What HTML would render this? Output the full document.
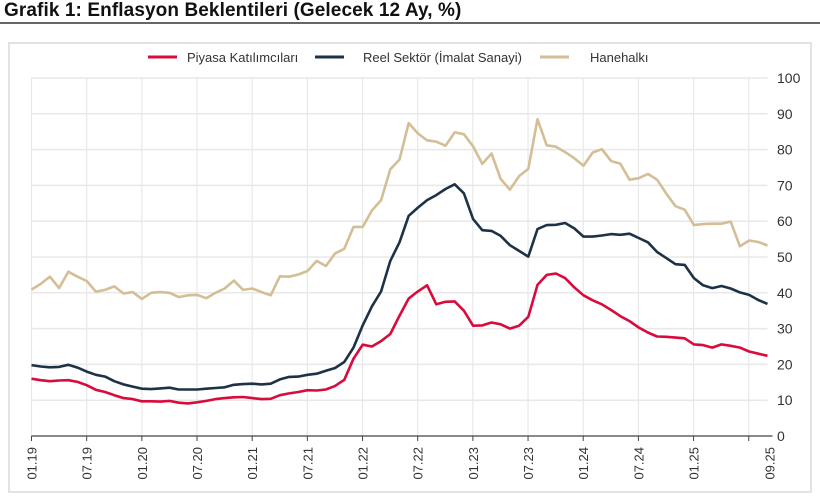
<!DOCTYPE html>
<html><head><meta charset="utf-8">
<style>
body{margin:0;width:820px;height:497px;background:#fff;overflow:hidden;font-family:"Liberation Sans",sans-serif;}
#title{position:absolute;left:4px;top:0px;font-size:19px;font-weight:bold;color:#111;letter-spacing:0.1px;}
#rule{position:absolute;left:0;top:22px;width:820px;height:2px;background:#666;}
#frame{position:absolute;left:8px;top:42px;width:804px;height:451px;border:2px solid #e2e2e2;box-sizing:border-box;}
svg{position:absolute;left:0;top:0;}
</style></head>
<body>
<div id="title">Grafik 1: Enflasyon Beklentileri (Gelecek 12 Ay, %)</div>
<div id="rule"></div>
<div id="frame"></div>
<svg id="chart" width="820" height="497"></svg>
<script>
const tickLabels=["01.19","07.19","01.20","07.20","01.21","07.21","01.22","07.22","01.23","07.23","01.24","07.24","01.25","09.25"];
const yTicks=[0,10,20,30,40,50,60,70,80,90,100];
const seriesNames=["Piyasa Katılımcıları","Reel Sektör (İmalat Sanayi)","Hanehalkı"];
const piyasa=[16.0,15.6,15.3,15.5,15.6,15.1,14.2,12.9,12.3,11.4,10.6,10.3,9.7,9.7,9.6,9.8,9.3,9.1,9.4,9.8,10.3,10.6,10.8,10.9,10.6,10.3,10.4,11.4,11.9,12.3,12.8,12.7,13.0,14.0,15.7,21.6,25.5,25.0,26.5,28.5,33.6,38.4,40.4,42.1,36.8,37.5,37.6,35.0,30.8,30.9,31.7,31.2,30.0,30.8,33.3,42.2,45.0,45.4,44.1,41.5,39.3,37.9,36.8,35.2,33.5,32.1,30.3,28.9,27.8,27.7,27.5,27.3,25.6,25.4,24.7,25.6,25.2,24.7,23.6,23.0,22.4];
const reel=[19.8,19.4,19.2,19.3,19.9,19.1,18.0,17.1,16.6,15.3,14.4,13.8,13.2,13.1,13.3,13.5,13.0,13.0,13.0,13.2,13.4,13.6,14.3,14.5,14.6,14.4,14.6,15.8,16.5,16.6,17.1,17.4,18.2,19.0,20.7,24.7,30.9,36.2,40.4,48.9,54.1,61.5,63.8,65.9,67.3,69.0,70.3,67.8,60.6,57.5,57.3,55.9,53.3,51.7,50.1,57.8,58.9,59.0,59.5,58.0,55.7,55.7,56.0,56.4,56.2,56.5,55.3,54.1,51.4,49.7,48.0,47.8,44.1,42.1,41.3,41.9,41.2,40.1,39.4,38.0,36.9];
const hane=[40.9,42.5,44.5,41.3,45.9,44.5,43.3,40.3,40.8,41.8,39.8,40.2,38.3,40.0,40.2,40.0,38.8,39.3,39.4,38.5,40.0,41.2,43.4,40.8,41.2,40.2,39.3,44.6,44.5,45.1,46.1,48.9,47.5,51.0,52.3,58.4,58.4,63.0,65.9,74.5,77.2,87.4,84.5,82.6,82.2,81.1,84.8,84.3,80.9,76.0,78.9,71.8,68.8,72.6,74.6,88.5,81.2,80.8,79.3,77.6,75.5,79.2,80.1,76.8,76.1,71.6,72.0,73.2,71.6,67.7,64.2,63.2,58.9,59.2,59.3,59.3,59.9,53.0,54.6,54.2,53.2];

const NS="http://www.w3.org/2000/svg";
const svg=document.getElementById('chart');
const X0=31.5,X1=767.5,Y0=436,Y1=78;
const nPts=piyasa.length;
const x=i=>X0+i*(X1-X0)/(nPts-1);
const y=v=>Y0-(v/100)*(Y0-Y1);
function mk(tag,attrs){const e=document.createElementNS(NS,tag);for(const k in attrs)e.setAttribute(k,attrs[k]);svg.appendChild(e);return e;}

yTicks.forEach(v=>{
  if(v>0){const g=mk('line',{x1:X0,x2:X1,y1:y(v),y2:y(v),stroke:'#e8e8e8','stroke-width':1.5});
  
  }
  const t=mk('text',{x:777,y:y(v)+5,'font-size':14,fill:'#333','font-family':'Liberation Sans, sans-serif'});
  t.textContent=v;
  
  
});
const step=(X1-X0)/(nPts-1)*6;
tickLabels.forEach((lab,i)=>{
  const tx=X0+i*step*0.9995;
  const g=mk('line',{x1:tx,x2:tx,y1:Y1,y2:Y0,stroke:'#e8e8e8','stroke-width':1.2});
  
  
  const tk=mk('line',{x1:tx,x2:tx,y1:Y0,y2:Y0+5,stroke:'#444','stroke-width':1});
  
  
  const lx=(i===tickLabels.length-1)?X1+2:tx;
  const t=mk('text',{x:0,y:0,'font-size':13,fill:'#333','text-anchor':'end','font-family':'Liberation Sans, sans-serif',transform:`translate(${lx+5},${Y0+11}) rotate(-90)`});
  t.textContent=lab;
  
  
});
const ax=mk('line',{x1:X0,x2:X1+5,y1:Y0,y2:Y0,stroke:'#444','stroke-width':1.2});



const colors=['#d90b3c','#1e3246','#d4be96'];
[hane,reel,piyasa].forEach((arr,k)=>{
  const c=[colors[2],colors[1],colors[0]][k];
  const d=arr.map((v,i)=>(i?'L':'M')+x(i).toFixed(1)+','+y(v).toFixed(1)).join('');
  const p=mk('path',{d:d,fill:'none',stroke:c,'stroke-width':2.6,'stroke-linejoin':'round'});
  
  
});

const legX=[[148,187],[315,363],[540,590]];
seriesNames.forEach((n,i)=>{
  const l=mk('line',{x1:legX[i][0],x2:legX[i][0]+29,y1:57,y2:57,stroke:colors[i],'stroke-width':3});
  
  
  const t=mk('text',{x:legX[i][1],y:62,'font-size':13,fill:'#333','font-family':'Liberation Sans, sans-serif'});
  t.textContent=n;
  
  
});
</script>
</body></html>
